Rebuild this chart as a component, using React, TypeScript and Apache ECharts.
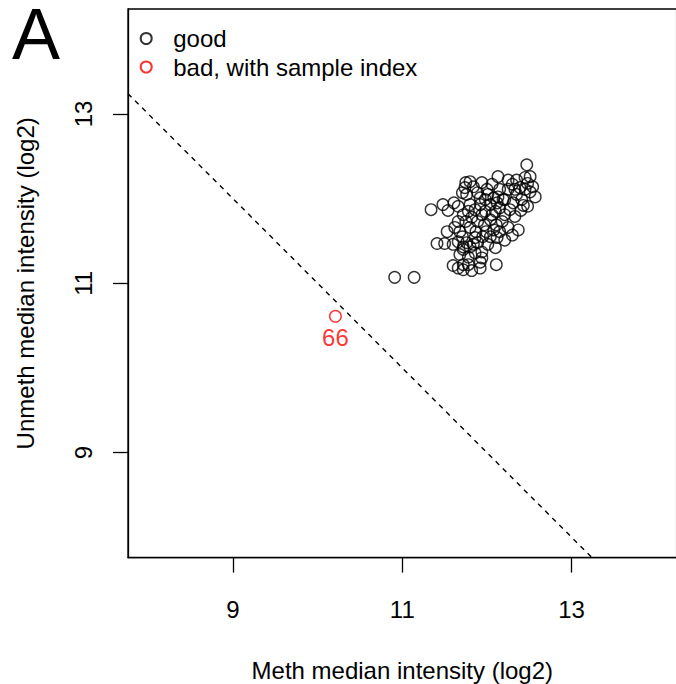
import React, { useEffect, useRef } from "react";
import * as echarts from "echarts";

// Sample QC medians (log2)
const goodMeth = [
  10.91, 11.14, 12.47, 11.34, 11.54, 11.61, 11.48, 11.66, 11.75, 11.80,
  11.74, 11.71, 11.76, 12.13, 11.94, 12.25, 12.35, 12.45, 12.51, 12.48,
  12.54, 12.51, 12.57, 12.41, 12.33, 11.89, 12.01, 12.13, 12.21, 12.31,
  12.43, 12.48, 12.40, 12.00, 12.06, 11.84, 12.25, 12.19, 11.53, 11.41,
  11.50, 11.60, 11.66, 11.72, 11.76, 11.84, 11.71, 11.72, 11.80, 11.89,
  11.95, 12.04, 12.12, 12.21, 12.30, 12.37, 11.60, 11.66, 11.72, 11.78,
  11.82, 11.92, 11.94, 11.92, 12.11, 11.68, 11.78, 11.86, 11.94, 11.72,
  11.80, 11.86, 11.92, 11.98, 12.04, 12.10, 12.15, 12.21, 12.27, 12.33,
  11.82, 11.89, 11.97, 12.04, 12.11, 12.18, 12.25, 11.80, 11.87, 11.99,
  12.08, 12.15, 11.75, 11.92, 11.98, 12.08, 12.35, 12.39, 12.30, 12.45,
  12.15, 11.78, 11.72, 11.94, 12.06, 11.62, 11.68, 12.01, 12.10, 11.86,
  11.66, 12.12,
];
const goodUnmeth = [
  11.07, 11.07, 12.40, 11.87, 11.86, 11.95, 11.93, 11.91, 12.19, 12.20,
  12.13, 12.07, 12.05, 12.26, 12.19, 12.22, 12.22, 12.25, 12.26, 12.18,
  12.14, 12.08, 12.02, 11.99, 12.11, 12.07, 12.05, 12.02, 11.99, 11.95,
  11.92, 11.91, 11.86, 12.11, 12.17, 12.14, 12.11, 11.99, 11.61, 11.47,
  11.47, 11.46, 11.49, 11.43, 11.48, 11.46, 11.55, 11.40, 11.43, 11.48,
  11.55, 11.55, 11.54, 11.51, 11.57, 11.63, 11.21, 11.18, 11.22, 11.22,
  11.15, 11.25, 11.30, 11.18, 11.22, 11.34, 11.31, 11.36, 11.37, 11.16,
  11.93, 11.87, 11.93, 11.85, 11.93, 11.85, 11.89, 11.81, 11.87, 11.79,
  11.78, 11.73, 11.69, 11.75, 11.69, 11.73, 11.66, 11.66, 11.61, 11.61,
  11.63, 11.61, 11.73, 12.01, 11.99, 12.01, 12.05, 12.13, 12.17, 12.11,
  12.11, 11.85, 11.81, 11.81, 11.81, 11.66, 11.61, 11.46, 11.42, 11.54,
  11.73, 11.95,
];
const badMeth = [10.21];
const badUnmeth = [10.61];
const badIndex = [66];
const badSampleCutoff = 10.5;
const tickValues = [9, 11, 13];
const axisRange = [7.76, 14.24];
const legendNames = ["good", "bad, with sample index"];

const FONT = "'Liberation Sans', Arial, Helvetica, sans-serif";

export default function App() {
  const ref = useRef<HTMLDivElement>(null);
  useEffect(() => {
    if (!ref.current) return;
    const chart = echarts.init(ref.current, null, { renderer: "svg" });
    const circleStyle = (c: string) => ({
      color: "rgba(0,0,0,0)",
      borderColor: c,
      borderWidth: 1.4,
    });
    const axisCommon = {
      type: "value" as const,
      min: axisRange[0],
      max: axisRange[1],
      splitLine: { show: false },
      axisLine: { show: true, lineStyle: { color: "#000", width: 1.3 } },
      axisTick: {
        show: true,
        customValues: tickValues,
        length: 15,
        lineStyle: { color: "#000", width: 1.3 },
      },
      nameLocation: "middle" as const,
      nameTextStyle: { fontSize: 24, color: "#000", fontFamily: FONT },
    };
    chart.setOption({
      animation: false,
      backgroundColor: "#fff",
      textStyle: { fontFamily: FONT },
      grid: {
        left: 128,
        top: 9,
        width: 548.6,
        height: 548.6,
        outerBoundsMode: "none",
        containLabel: false,
        show: true,
        borderColor: "#000",
        borderWidth: 1.3,
        backgroundColor: "transparent",
      },
      legend: {
        data: legendNames,
        orient: "vertical",
        left: 134.7,
        top: 21.5,
        icon: "circle",
        itemWidth: 44,
        itemHeight: 11,
        itemGap: 4.5,
        textStyle: { fontSize: 24, color: "#000", fontFamily: FONT },
        selectedMode: false,
      },
      xAxis: {
        ...axisCommon,
        name: "Meth median intensity (log2)",
        nameGap: 101,
        axisLabel: {
          customValues: tickValues,
          fontSize: 24,
          color: "#000",
          margin: 40,
          fontFamily: FONT,
        },
      },
      yAxis: {
        ...axisCommon,
        name: "Unmeth median intensity (log2)",
        nameGap: 91,
        axisLabel: {
          customValues: tickValues,
          fontSize: 24,
          color: "#000",
          margin: 33,
          rotate: 90,
          fontFamily: FONT,
        },
      },
      graphic: [
        {
          type: "text",
          left: 12,
          top: -2,
          style: {
            text: "A",
            font: `72px ${FONT}`,
            fill: "#000",
          },
        },
      ],
      series: [
        {
          name: "cutoff",
          type: "line",
          data: [
            [axisRange[0], 2 * badSampleCutoff - axisRange[0]],
            [axisRange[1], 2 * badSampleCutoff - axisRange[1]],
          ],
          symbol: "none",
          silent: true,
          lineStyle: { color: "#000", width: 1.4, type: [5, 5] },
          z: 1,
        },
        {
          name: legendNames[0],
          type: "scatter",
          symbol: "circle",
          symbolSize: 11.5,
          data: goodMeth.map((x, i) => [x, goodUnmeth[i]]),
          itemStyle: circleStyle("#000"),
          z: 3,
        },
        {
          name: legendNames[1],
          type: "scatter",
          symbol: "circle",
          symbolSize: 11.5,
          data: badMeth.map((x, i) => [x, badUnmeth[i]]),
          itemStyle: circleStyle("#ff0000"),
          z: 3,
        },
        {
          name: "badLabel",
          type: "scatter",
          symbolSize: 0,
          silent: true,
          data: badMeth.map((x, i) => ({
            value: [x, badUnmeth[i] - 0.25],
            label: { formatter: String(badIndex[i]) },
          })),
          label: {
            show: true,
            position: "inside",
            fontSize: 24,
            color: "#ff0000",
            fontFamily: FONT,
          },
          itemStyle: { color: "rgba(0,0,0,0)" },
          z: 4,
        },
      ],
    });
    return () => chart.dispose();
  }, []);
  return (
    <div
      ref={ref}
      style={{ position: "absolute", left: 0, top: 0, width: 676, height: 684 }}
    />
  );
}
